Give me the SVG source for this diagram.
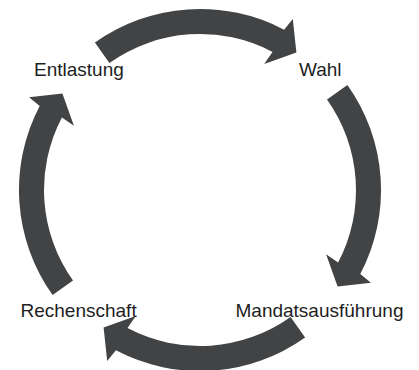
<svg xmlns="http://www.w3.org/2000/svg" width="419" height="370" viewBox="0 0 419 370">
  <style>
    .lbl { font-family: "Liberation Sans", Arial, sans-serif; font-size: 19px; fill: #1e1e1e; }
    .arr { fill: #424345; }
  </style>
  <defs>
    <path id="arc-arrow" d="M94.9,42.6 A181,181 0 0 1 284.1,29.7 L292.8,19.1 L296.4,52.4 L264.2,63.9 L272.5,51.9 A156,156 0 0 0 109.4,63.0 Z"/>
  </defs>
  <rect width="419" height="370" fill="#ffffff"/>
  <g id="connectors">
    <use href="#arc-arrow" class="arr"/>
    <use href="#arc-arrow" class="arr" transform="rotate(90 200 190)"/>
    <use href="#arc-arrow" class="arr" transform="rotate(180 200 190)"/>
    <use href="#arc-arrow" class="arr" transform="rotate(270 200 190)"/>
  </g>
  <g id="node-entlastung"><text class="lbl" x="34" y="76">Entlastung</text></g>
  <g id="node-wahl"><text class="lbl" x="299" y="76">Wahl</text></g>
  <g id="node-mandatsausfuehrung"><text class="lbl" x="235.5" y="317">Mandatsausführung</text></g>
  <g id="node-rechenschaft"><text class="lbl" x="20.5" y="317">Rechenschaft</text></g>
</svg>
